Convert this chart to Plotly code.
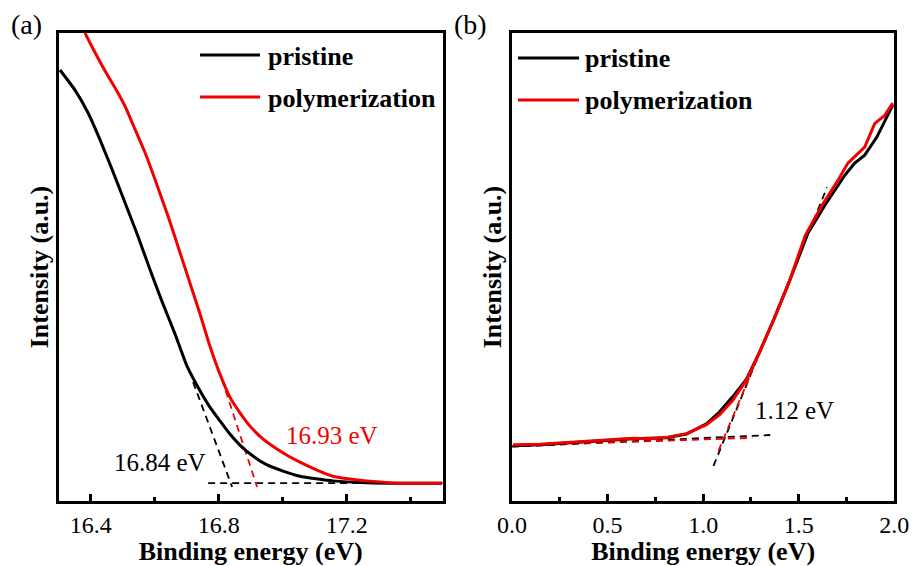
import plotly.graph_objects as go

# ---------------- data: panel (a) ----------------
a_pristine_x = [16.304, 16.351, 16.392, 16.429, 16.467, 16.507, 16.548, 16.585, 16.623,
                16.664, 16.701, 16.742, 16.773, 16.804, 16.835, 16.867, 16.907, 16.951,
                17.001, 17.054, 17.157, 17.263, 17.367, 17.498]
a_pristine_y = [0.921, 0.878, 0.829, 0.772, 0.708, 0.638, 0.565, 0.495, 0.426,
                0.356, 0.288, 0.235, 0.200, 0.171, 0.143, 0.119, 0.096, 0.077,
                0.064, 0.053, 0.043, 0.039, 0.038, 0.038]
a_poly_x = [16.382, 16.413, 16.445, 16.476, 16.507, 16.538, 16.570, 16.601, 16.642,
            16.688, 16.742, 16.773, 16.804, 16.835, 16.867, 16.898, 16.939, 16.982,
            17.023, 17.054, 17.107, 17.157, 17.210, 17.263, 17.367, 17.498]
a_poly_y = [1.000, 0.959, 0.919, 0.883, 0.844, 0.795, 0.744, 0.687, 0.608,
            0.512, 0.399, 0.330, 0.271, 0.222, 0.188, 0.160, 0.132, 0.111,
            0.094, 0.083, 0.066, 0.053, 0.047, 0.043, 0.038, 0.038]
# onset fits (a)
a_tan_pristine_x = [16.720, 16.842]
a_tan_pristine_y = [0.254, 0.030]
a_tan_poly_x = [16.810, 16.920]
a_tan_poly_y = [0.260, 0.030]
a_base_x = [16.767, 17.5]
a_base_y = [0.038, 0.038]
a_onset_labels = ["16.84 eV", "16.93 eV"]
a_ticks = [16.4, 16.8, 17.2]

# ---------------- data: panel (b) ----------------
b_pristine_x = [0.007, 0.147, 0.288, 0.460, 0.632, 0.809, 0.913, 1.017, 1.085, 1.153,
                1.226, 1.294, 1.372, 1.449, 1.548, 1.637, 1.741, 1.793, 1.845, 1.908, 1.992]
b_pristine_y = [0.118, 0.120, 0.124, 0.128, 0.133, 0.135, 0.143, 0.165, 0.190, 0.222,
                0.260, 0.317, 0.390, 0.467, 0.572, 0.632, 0.696, 0.722, 0.739, 0.777, 0.846]
b_poly_x = [0.007, 0.147, 0.288, 0.460, 0.632, 0.720, 0.809, 0.913, 1.017, 1.085, 1.153,
            1.226, 1.294, 1.372, 1.449, 1.534, 1.622, 1.705, 1.757, 1.845, 1.898, 1.950, 1.992]
b_poly_y = [0.120, 0.121, 0.125, 0.130, 0.134, 0.133, 0.136, 0.144, 0.163, 0.184, 0.214,
            0.258, 0.317, 0.390, 0.467, 0.567, 0.632, 0.685, 0.722, 0.756, 0.807, 0.824, 0.850]
# onset fits (b)
b_tan_pristine_x = [1.054, 1.648]
b_tan_pristine_y = [0.075, 0.670]
b_tan_poly_x = [1.080, 1.450]
b_tan_poly_y = [0.107, 0.467]
b_base_pristine_x = [0.0, 1.351]
b_base_pristine_y = [0.116, 0.141]
b_base_poly_x = [0.0, 1.257]
b_base_poly_y = [0.118, 0.135]
b_onset_label = "1.12 eV"
b_ticks = [0.0, 0.5, 1.0, 1.5, 2.0]

series_names = ["pristine", "polymerization"]
BLACK = "#000000"
RED = "#F20000"
FONT = "Liberation Serif"
W, H = 916, 566


def px(x):
    return x / W


def py(y):
    return 1 - y / H


fig = go.Figure()

# dashed fit lines (under the curves)
dash_style = dict(width=1.8, dash="7px,5px")
for xs, ys, c, xa, ya in [
    (a_base_x, a_base_y, BLACK, "x", "y"),
    (a_tan_pristine_x, a_tan_pristine_y, BLACK, "x", "y"),
    (a_tan_poly_x, a_tan_poly_y, RED, "x", "y"),
    (b_base_pristine_x, b_base_pristine_y, BLACK, "x2", "y2"),
    (b_base_poly_x, b_base_poly_y, RED, "x2", "y2"),
    (b_tan_pristine_x, b_tan_pristine_y, BLACK, "x2", "y2"),
    (b_tan_poly_x, b_tan_poly_y, RED, "x2", "y2"),
]:
    fig.add_trace(go.Scatter(x=xs, y=ys, mode="lines", xaxis=xa, yaxis=ya,
                             line=dict(color=c, **dash_style), showlegend=False,
                             hoverinfo="skip"))

# curves
fig.add_trace(go.Scatter(x=a_pristine_x, y=a_pristine_y, mode="lines", name=series_names[0],
                         line=dict(color=BLACK, width=3, shape="spline", smoothing=0.5),
                         xaxis="x", yaxis="y", showlegend=False))
fig.add_trace(go.Scatter(x=a_poly_x, y=a_poly_y, mode="lines", name=series_names[1],
                         line=dict(color=RED, width=3, shape="spline", smoothing=0.5),
                         xaxis="x", yaxis="y", showlegend=False))
fig.add_trace(go.Scatter(x=b_pristine_x, y=b_pristine_y, mode="lines", name=series_names[0],
                         line=dict(color=BLACK, width=3),
                         xaxis="x2", yaxis="y2", showlegend=False))
fig.add_trace(go.Scatter(x=b_poly_x, y=b_poly_y, mode="lines", name=series_names[1],
                         line=dict(color=RED, width=3),
                         xaxis="x2", yaxis="y2", showlegend=False))

axis_common = dict(showline=True, mirror=True, linewidth=3, linecolor=BLACK,
                   showgrid=False, zeroline=False, automargin=False)
xfont = dict(family=FONT, size=24, color=BLACK)
title_font = dict(family=FONT, size=26, color=BLACK, weight="bold")

fig.update_layout(
    width=W, height=H,
    margin=dict(l=0, r=0, t=0, b=0, autoexpand=False),
    paper_bgcolor="white", plot_bgcolor="white",
    showlegend=False,
    font=dict(family=FONT),
    xaxis=dict(domain=[px(58.7), px(442.7)], range=[16.3, 17.5], anchor="y",
               tickvals=a_ticks, ticktext=[f"{v:.1f}" for v in a_ticks],
               ticks="inside", ticklen=7, tickwidth=3, tickcolor=BLACK,
               minor=dict(ticks="inside", ticklen=4, tickwidth=3, dtick=0.2, tick0=16.4,
                          tickcolor=BLACK),
               tickfont=xfont,
               title=dict(text="Binding energy (eV)", font=title_font, standoff=0),
               **axis_common),
    yaxis=dict(domain=[py(501), py(33)], range=[0, 1], anchor="x",
               showticklabels=False, ticks="",
               title=dict(text="Intensity (a.u.)", font=title_font, standoff=0),
               **axis_common),
    xaxis2=dict(domain=[px(512), px(894.3)], range=[0, 2], anchor="y2",
                tickvals=b_ticks, ticktext=[f"{v:.1f}" for v in b_ticks],
                ticks="inside", ticklen=7, tickwidth=3, tickcolor=BLACK,
                minor=dict(ticks="inside", ticklen=4, tickwidth=3, dtick=0.25, tick0=0,
                           tickcolor=BLACK),
                tickfont=xfont,
                title=dict(text="Binding energy (eV)", font=title_font, standoff=0),
                **axis_common),
    yaxis2=dict(domain=[py(501), py(33)], range=[0, 1], anchor="x2",
                showticklabels=False, ticks="",
                title=dict(text="Intensity (a.u.)", font=title_font, standoff=0),
                **axis_common),
)

# panel labels
for txt, x in [("(a)", 26), ("(b)", 470)]:
    fig.add_annotation(text=txt, x=px(x), y=py(25), xref="paper", yref="paper",
                       xanchor="center", yanchor="middle",
                       showarrow=False, font=dict(family=FONT, size=28, color=BLACK))

# onset annotations
fig.add_annotation(text=a_onset_labels[0], x=16.617, y=0.083, xref="x", yref="y",
                   showarrow=False, font=dict(family=FONT, size=25, color=BLACK))
fig.add_annotation(text=a_onset_labels[1], x=17.154, y=0.139, xref="x", yref="y",
                   showarrow=False, font=dict(family=FONT, size=25, color=RED))
fig.add_annotation(text=b_onset_label, x=1.476, y=0.193, xref="x2", yref="y2",
                   showarrow=False, font=dict(family=FONT, size=25, color=BLACK))

# legends (line samples + bold labels)
legend_font = dict(family=FONT, size=26, color=BLACK, weight="bold")
for (x0, x1, tx, ys) in [(200, 260, 266, (55, 97)), (518, 579, 583, (58, 100))]:
    for name, color, yy in zip(series_names, [BLACK, RED], ys):
        fig.add_shape(type="line", xref="paper", yref="paper",
                      x0=px(x0), x1=px(x1), y0=py(yy), y1=py(yy),
                      line=dict(color=color, width=3))
        fig.add_annotation(text=name, x=px(tx), y=py(yy + 1), xref="paper", yref="paper",
                           xanchor="left", yanchor="middle", showarrow=False,
                           font=legend_font)

fig.write_html("out.html")
